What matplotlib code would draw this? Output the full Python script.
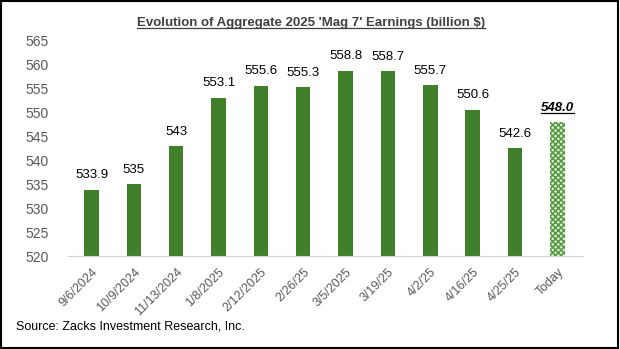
import numpy as np
import matplotlib.pyplot as plt
from matplotlib.patches import Rectangle
from matplotlib.lines import Line2D

plt.rcParams['font.family'] = ['Liberation Sans', 'DejaVu Sans']
plt.rcParams['hatch.linewidth'] = 1.1

dates = ["9/6/2024", "10/9/2024", "11/13/2024", "1/8/2025", "2/12/2025", "2/26/25",
         "3/5/2025", "3/19/25", "4/2/25", "4/16/25", "4/25/25", "Today"]
earnings = [533.9, 535, 543, 553.1, 555.6, 555.3, 558.8, 558.7, 555.7, 550.6, 542.6, 548.0]
labels = ["533.9", "535", "543", "553.1", "555.6", "555.3", "558.8", "558.7",
          "555.7", "550.6", "542.6", "548.0"]

green = '#40802A'
x = np.arange(len(dates))

fig = plt.figure(figsize=(6.2, 3.49), dpi=100)
ax = fig.add_axes([0.11, 0.266, 0.83, 0.617])

ax.bar(x[:-1], earnings[:-1], width=0.34, color=green)
ax.bar(x[-1], earnings[-1], width=0.34, color='#e2efdc', edgecolor='#55993f',
       hatch='xxxxxx', linewidth=0)

ax.set_ylim(520, 565)
ax.set_xlim(-0.55, 11.6)
ax.set_yticks(np.arange(520, 566, 5))
ax.set_xticks(x)
ax.set_xticklabels(dates, rotation=45, ha='right', rotation_mode='anchor')
ax.tick_params(axis='both', length=0, colors='#595959', labelsize=10)
ax.tick_params(axis='x', pad=7, labelsize=9)
ax.tick_params(axis='y', pad=14)

for s in ['top', 'right', 'left']:
    ax.spines[s].set_visible(False)
ax.spines['bottom'].set_color('#d0d0d0')

for i, (v, t) in enumerate(zip(earnings, labels)):
    if i == len(earnings) - 1:
        txt = ax.annotate(t, (i, v), xytext=(0, 6), textcoords='offset points',
                          ha='center', va='bottom', fontsize=9.5,
                          fontweight='bold', style='italic')
    else:
        ax.annotate(t, (i, v), xytext=(0, 6), textcoords='offset points',
                    ha='center', va='bottom', fontsize=9.5)

title = fig.text(0.502, 0.935, "Evolution of Aggregate 2025 'Mag 7' Earnings (billion $)",
                 ha='center', va='center', fontsize=9.5, fontweight='bold', color='#404040')

fig.text(0.025, 0.065, "Source: Zacks Investment Research, Inc.", ha='left', va='center',
         fontsize=9, color='black')

fig.add_artist(Rectangle((0.002, 0.003), 0.995, 0.994, transform=fig.transFigure,
                         fill=False, edgecolor='black', lw=1.5))

# underlines for the title and the "Today" value
fig.canvas.draw()
inv = fig.transFigure.inverted()
for t, c in [(title, '#404040'), (txt, 'black')]:
    bb = t.get_window_extent().transformed(inv)
    fig.add_artist(Line2D([bb.x0, bb.x1], [bb.y0 + 0.001, bb.y0 + 0.001], color=c, lw=0.9))

fig.savefig('out.png', dpi=100)
